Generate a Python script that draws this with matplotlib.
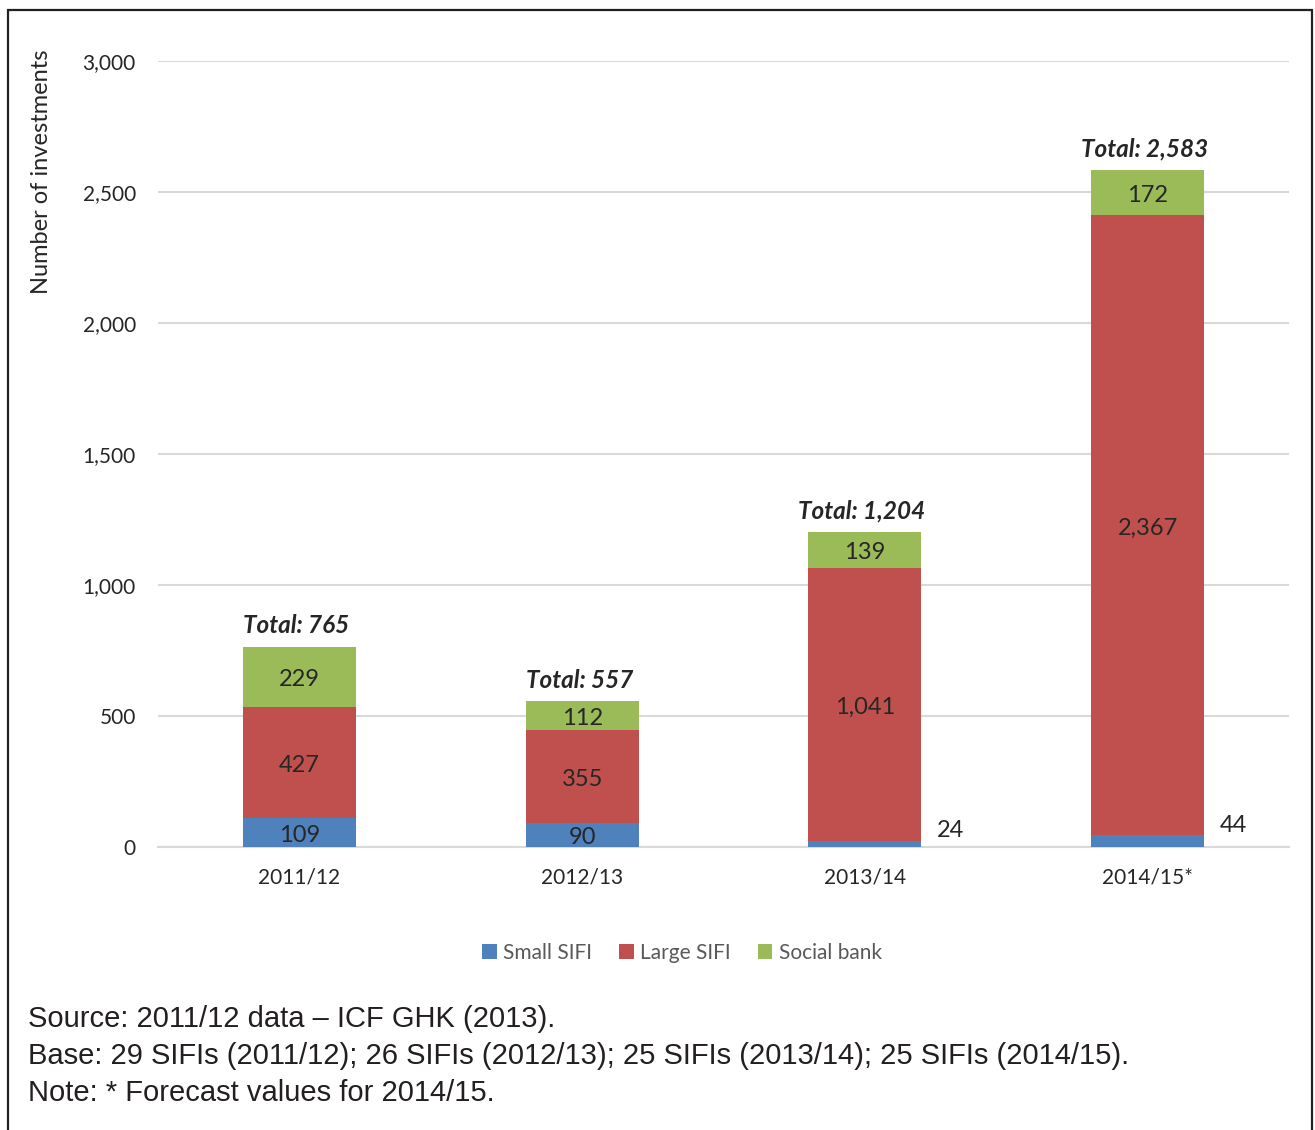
import matplotlib.pyplot as plt
import matplotlib.patches as mpatches
from matplotlib.ticker import FuncFormatter
from matplotlib import font_manager

years = ["2011/12", "2012/13", "2013/14", "2014/15*"]
small_sifi = [109, 90, 24, 44]
large_sifi = [427, 355, 1041, 2367]
social_bank = [229, 112, 139, 172]
totals = [765, 557, 1204, 2583]

blue = "#4F81BD"
red = "#C0504D"
green = "#9BBB59"

names = [f.name for f in font_manager.fontManager.ttflist]
body = "Lato" if "Lato" in names else "DejaVu Sans"
note_font = "Liberation Sans Narrow" if "Liberation Sans Narrow" in names else "Liberation Sans"

plt.rcParams["font.family"] = [body, "DejaVu Sans"]

fig = plt.figure(figsize=(13.15, 11.3), dpi=100)
ax = fig.add_axes([158 / 1315, 1 - 847 / 1130, (1289 - 158) / 1315, (847 - 61) / 1130])

x = list(range(len(years)))
bottom2 = [a + b for a, b in zip(small_sifi, large_sifi)]
w = 0.4
b1 = ax.bar(x, small_sifi, w, color=blue, label="Small SIFI", zorder=3)
b2 = ax.bar(x, large_sifi, w, bottom=small_sifi, color=red, label="Large SIFI", zorder=3)
b3 = ax.bar(x, social_bank, w, bottom=bottom2, color=green, label="Social bank", zorder=3)

txt = "#262626"
lab = dict(ha="center", va="center", fontsize=17, color=txt, zorder=4,
           textcoords="offset points", xytext=(0, -2))
for i in range(len(years)):
    if small_sifi[i] > 60:
        ax.annotate(str(small_sifi[i]), (x[i], small_sifi[i] / 2), **lab)
    else:
        ax.annotate(str(small_sifi[i]), (x[i] + w / 2, small_sifi[i]), xytext=(11, 7),
                    textcoords="offset points", ha="left", va="center", fontsize=17,
                    color=txt, zorder=4)
    ax.annotate(f"{large_sifi[i]:,}", (x[i], small_sifi[i] + large_sifi[i] / 2), **lab)
    ax.annotate(f"{social_bank[i]:,}", (x[i], bottom2[i] + social_bank[i] / 2), **lab)
    ax.annotate(f"Total: {totals[i]:,}", (x[i], totals[i]), xytext=(-2, 15),
                textcoords="offset points", ha="center", va="center", fontsize=17.5,
                fontweight="bold", fontstyle="italic", color=txt, zorder=4)

ax.set_xlim(-0.5, 3.5)
ax.set_ylim(0, 3000)
ax.set_yticks([0, 500, 1000, 1500, 2000, 2500, 3000])
ax.yaxis.set_major_formatter(FuncFormatter(lambda v, p: f"{int(v):,}"))
ax.set_xticks(x)
ax.set_xticklabels(years)
ax.tick_params(axis="both", length=0, labelsize=15, labelcolor=txt)
ax.tick_params(axis="y", pad=16)
ax.tick_params(axis="x", pad=15)
ax.grid(axis="y", color="#D9D9D9", linewidth=1.5, zorder=0)
for s in ["top", "right", "left"]:
    ax.spines[s].set_visible(False)
ax.spines["bottom"].set_color("#D9D9D9")
ax.spines["bottom"].set_linewidth(1.5)

fig.text(42 / 1315, 1 - 50 / 1130, "Number of investments", rotation=90, ha="center",
         va="top", fontsize=17, color=txt)

fig.legend(handles=[b1, b2, b3], loc="center", bbox_to_anchor=(682 / 1315, 1 - 953 / 1130),
           ncol=3, frameon=False, fontsize=15, labelcolor="#595959", handlelength=0.7,
           handleheight=0.7, handletextpad=0.3, columnspacing=1.3)

notes = ["Source: 2011/12 data \u2013 ICF GHK (2013).",
         "Base: 29 SIFIs (2011/12); 26 SIFIs (2012/13); 25 SIFIs (2013/14); 25 SIFIs (2014/15).",
         "Note: * Forecast values for 2014/15."]
for k, line in enumerate(notes):
    fig.text(28 / 1315, 1 - (1019 + 37 * k) / 1130, line, ha="left", va="center",
             fontsize=21, family=note_font, color="#231F20")

border = mpatches.Rectangle((8 / 1315, -0.02), (1312 - 8) / 1315, 1 - 10 / 1130 + 0.02,
                            transform=fig.transFigure, fill=False, edgecolor="#231F20",
                            linewidth=1.6)
fig.patches.append(border)

fig.savefig("out.png", dpi=100)
